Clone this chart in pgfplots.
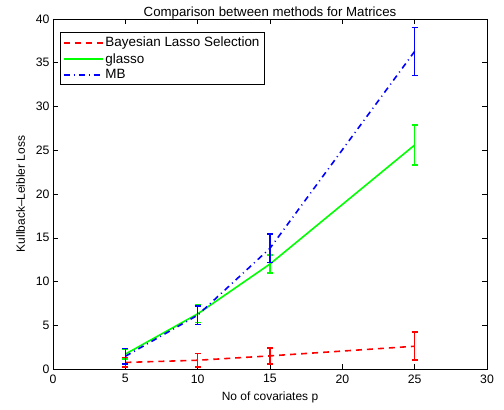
\documentclass[border=0pt]{standalone}
\usepackage{fontspec}
\setmainfont{Liberation Sans}
\usepackage{pgfplots}
\pgfplotsset{compat=1.18}

% KL loss per method, mean and error half-width
\pgfplotstableread{
p   y     e
5   0.75  0.55
10  1.00  0.75
15  1.50  0.90
25  2.60  1.60
}\bayes
\pgfplotstableread{
p   y     e
5   1.70  0.55
10  6.30  1.00
15  12.00 1.05
25  25.60 2.30
}\glasso
\pgfplotstableread{
p   y     e
5   1.45  0.90
10  6.15  1.05
15  13.80 1.65
25  36.30 2.75
}\mb

\begin{document}
\begin{tikzpicture}
\begin{axis}[
    name=ax,
    at={(0,0)}, anchor=south west,
    scale only axis,
    width=434bp, height=350bp,
    xmin=0, xmax=30, ymin=0, ymax=40,
    xtick={0,5,...,30}, ytick={0,5,...,40},
    tick align=inside,
    major tick length=5bp,
    axis line style={line width=0.9pt},
    tick style={black, line width=0.5pt},
    font=\fontsize{12}{13}\selectfont,
    tick label style={font=\fontsize{12.3}{13}\selectfont},
    /pgf/number format/assume math mode=true,
    xticklabel style={yshift=-2bp},
    title={Comparison between methods for Matrices},
    title style={yshift=-10bp, font=\fontsize{13.3}{14}\selectfont},
    xlabel={No of covariates p},
    ylabel={Kullback\textendash Leibler Loss},
    xlabel style={yshift=-2bp},
    ylabel style={yshift=4bp},
    legend style={draw=black, line width=0.9pt, at={(0.016,0.962)}, anchor=north west,
        inner sep=2.5pt, row sep=1pt, font=\fontsize{13.5}{15}\selectfont},
    legend cell align=left,
    legend image code/.code={\draw[#1] (0bp,0bp) -- (39bp,0bp);},
    every axis plot/.append style={line width=1.6pt},
    error bars/error bar style={solid, line width=1.6pt},
    error bars/error mark options={solid, rotate=90, mark size=3bp, line width=1.6pt},
]
\addlegendimage{red, line width=1.6pt, dash pattern=on 6bp off 5bp}
\addlegendentry{Bayesian Lasso Selection}
\addlegendimage{green, line width=1.6pt}
\addlegendentry{glasso}
\addlegendimage{blue, line width=1.6pt, dash pattern=on 6bp off 4bp on 1bp off 4bp}
\addlegendentry{MB}
\addplot[forget plot, red, dash pattern=on 6bp off 5bp,
    error bars/.cd, y dir=both, y explicit]
    table[x=p, y=y, y error=e] {\bayes};
\addplot[forget plot, green,
    error bars/.cd, y dir=both, y explicit]
    table[x=p, y=y, y error=e] {\glasso};
\addplot[forget plot, blue, dash pattern=on 6bp off 4bp on 1bp off 4bp,
    error bars/.cd, y dir=both, y explicit]
    table[x=p, y=y, y error=e] {\mb};
\end{axis}
\pgfresetboundingbox
\useasboundingbox ([xshift=-53bp,yshift=-41bp]ax.south west)
    rectangle ([xshift=17bp,yshift=19bp]ax.north east);
\end{tikzpicture}
\end{document}
